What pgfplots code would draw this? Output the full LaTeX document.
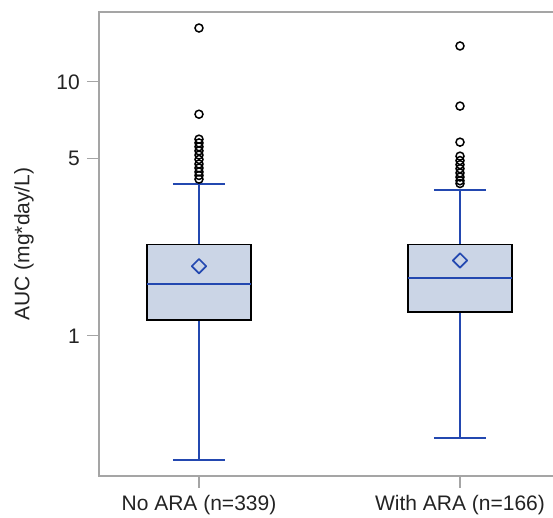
\documentclass[border=0pt]{standalone}
\usepackage{fontspec}
\setmainfont{Liberation Sans}
\usepackage{pgfplots}
\pgfplotsset{compat=1.18}
\usepgfplotslibrary{statistics}
\usetikzlibrary{calc}

\definecolor{boxfill}{RGB}{203,213,230}
\definecolor{boxline}{RGB}{35,72,176}
\definecolor{axisgray}{RGB}{165,165,165}
\definecolor{textcol}{RGB}{35,35,35}

% hollow blue diamond for the group mean
\pgfdeclareplotmark{meandiamond}{%
  \pgfsetlinewidth{1.7pt}%
  \pgfsetstrokecolor{boxline}%
  \pgfsetroundjoin
  \pgfpathmoveto{\pgfqpoint{0pt}{7.2pt}}%
  \pgfpathlineto{\pgfqpoint{7.2pt}{0pt}}%
  \pgfpathlineto{\pgfqpoint{0pt}{-7.2pt}}%
  \pgfpathlineto{\pgfqpoint{-7.2pt}{0pt}}%
  \pgfpathclose
  \pgfusepathqstroke
}

\begin{document}
\fontsize{21}{25}\selectfont
\begin{tikzpicture}
\begin{axis}[
  name=ax,
  scale only axis,
  width=454pt, height=464pt,
  ymode=log,
  ymin=0.2805, ymax=18.85,
  xmin=0.6169, xmax=2.3563,
  xtick={1,2},
  xticklabels={No ARA (n=339), With ARA (n=166)},
  ytick={1,5,10},
  yticklabels={1,5,10},
  yminorticks=false,
  xtick pos=bottom, ytick pos=left,
  tick align=outside,
  major tick length=12pt,
  tick style={axisgray, line width=1.2pt},
  axis line style={draw=none},
  ticklabel style={text=textcol},
  /pgf/number format/assume math mode=true,
  ylabel={AUC (mg*day/L)},
  ylabel style={at={([xshift=-75pt]axis description cs:0,0.5)}, anchor=center, text=textcol},
  boxplot/draw direction=y,
  boxplot/box extend=0.40,
  boxplot/whisker extend=0.20,
  boxplot/every box/.style={draw=black, fill=boxfill, line width=1.5pt},
  boxplot/every whisker/.style={draw=boxline, line width=1.8pt},
  boxplot/every median/.style={draw=boxline, line width=1.8pt},
  boxplot/every average/.style={/tikz/mark=meandiamond},
  outlier/.style={black, mark=o, mark size=4pt,
    mark options={fill=none, line width=1.5pt, solid}},
]
% No ARA (n=339)
\addplot[outlier, boxplot prepared={
    draw position=1,
    lower whisker=0.324, lower quartile=1.152, median=1.60,
    upper quartile=2.29, upper whisker=3.97, average=1.88}]
  coordinates {(1,16.3) (1,7.46) (1,5.95) (1,5.75) (1,5.55) (1,5.35) (1,5.15)
               (1,4.95) (1,4.75) (1,4.58) (1,4.42) (1,4.28) (1,4.14)};
% With ARA (n=166)
\addplot[outlier, boxplot prepared={
    draw position=2,
    lower whisker=0.395, lower quartile=1.243, median=1.69,
    upper quartile=2.29, upper whisker=3.75, average=1.98}]
  coordinates {(2,13.85) (2,8.03) (2,5.79) (2,5.1) (2,4.9) (2,4.72) (2,4.55)
               (2,4.38) (2,4.22) (2,4.08) (2,3.98)};
\end{axis}
% frame on three sides
\draw[axisgray, line width=1.2pt] (ax.south east) -- (ax.south west)
  -- (ax.north west) -- (ax.north east);
\pgfresetboundingbox
\path[use as bounding box] ($(ax.south west)+(-99pt,-42pt)$) rectangle ($(ax.north east)+(0pt,12pt)$);
\end{tikzpicture}
\end{document}
